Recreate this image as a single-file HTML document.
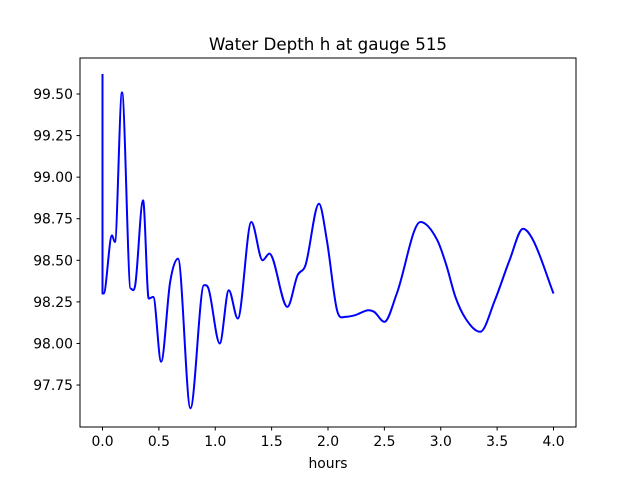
<!DOCTYPE html>
<html><head><meta charset="utf-8"><style>
body{margin:0;background:#fff;}
svg text{font-family:"DejaVu Sans","Liberation Sans",sans-serif;font-size:13.9px;fill:#000;}
</style></head><body>
<svg id="chart" width="640" height="480" viewBox="0 0 640 480" xmlns="http://www.w3.org/2000/svg">
<rect width="640" height="480" fill="#fff"/>
<text x="328" y="50" text-anchor="middle" style="font-size:16.7px">Water Depth h at gauge 515</text>
<g id="ticks"></g>
<path id="line" fill="none" stroke="#0000ff" stroke-width="2" stroke-linejoin="round"/>
<rect x="80" y="58" width="496" height="369" fill="none" stroke="#000" stroke-width="1"/>
<text x="328" y="468" text-anchor="middle">hours</text>
</svg>
<script>
const times=[0,0.01,0.084,0.11,0.173,0.25,0.29,0.36,0.41,0.45,0.52,0.60,0.67,0.78,0.90,0.94,1.04,1.12,1.20,1.32,1.42,1.48,1.64,1.73,1.80,1.92,1.99,2.08,2.15,2.24,2.36,2.41,2.50,2.61,2.82,2.97,3.05,3.13,3.22,3.35,3.48,3.61,3.73,3.82,4.0];
const depths=[98.30,98.30,98.65,98.61,99.51,98.33,98.35,98.86,98.27,98.28,97.89,98.37,98.51,97.61,98.35,98.33,98.00,98.32,98.15,98.73,98.50,98.54,98.22,98.41,98.47,98.84,98.62,98.20,98.16,98.17,98.20,98.19,98.13,98.30,98.73,98.62,98.47,98.28,98.15,98.07,98.26,98.50,98.69,98.62,98.30];
const startDepth=99.62;
const xTicks=[0,0.5,1,1.5,2,2.5,3,3.5,4];
const xTickLabels=["0.0","0.5","1.0","1.5","2.0","2.5","3.0","3.5","4.0"];
const yTicks=[97.75,98,98.25,98.5,98.75,99,99.25,99.5];
const yTickLabels=["97.75","98.00","98.25","98.50","98.75","99.00","99.25","99.50"];
const X=t=>102.5+t*112.75;
const Y=h=>94+(99.5-h)*166.3;
const NS="http://www.w3.org/2000/svg";
const g=document.getElementById('ticks');
function mk(tag,attrs){const e=document.createElementNS(NS,tag);for(const k in attrs)e.setAttribute(k,attrs[k]);return e;}
xTicks.forEach((t,i)=>{
 const l=mk('line',{x1:X(t),x2:X(t),y1:427,y2:430.5,stroke:'#000'});
 
 
 g.appendChild(l);
 const tx=mk('text',{x:X(t),y:446,'text-anchor':'middle'});tx.textContent=xTickLabels[i];
 
 
 g.appendChild(tx);
});
yTicks.forEach((h,i)=>{
 const l=mk('line',{x1:76.5,x2:80,y1:Y(h),y2:Y(h),stroke:'#000'});
 
 
 g.appendChild(l);
 const tx=mk('text',{x:73,y:Y(h)+5,'text-anchor':'end'});tx.textContent=yTickLabels[i];
 
 
 g.appendChild(tx);
});
const P=times.map((t,i)=>[X(t),Y(depths[i])]);
const n=P.length;
const s=[];for(let i=0;i<n-1;i++)s.push((P[i+1][1]-P[i][1])/(P[i+1][0]-P[i][0]));
const m=[];
for(let i=0;i<n;i++){
 if(i===0)m.push(s[0]);else if(i===n-1)m.push(s[n-2]);
 else if(s[i-1]*s[i]<=0)m.push(0);
 else m.push((s[i-1]+s[i])/2);
}
let d=`M${X(0)},${Y(startDepth)} L${P[0][0]},${P[0][1]}`;
for(let i=0;i<n-1;i++){
 const dx=(P[i+1][0]-P[i][0])/3;
 d+=` C${P[i][0]+dx},${P[i][1]+m[i]*dx} ${P[i+1][0]-dx},${P[i+1][1]-m[i+1]*dx} ${P[i+1][0]},${P[i+1][1]}`;
}
document.getElementById('line').setAttribute('d',d);
</script>
</body></html>
